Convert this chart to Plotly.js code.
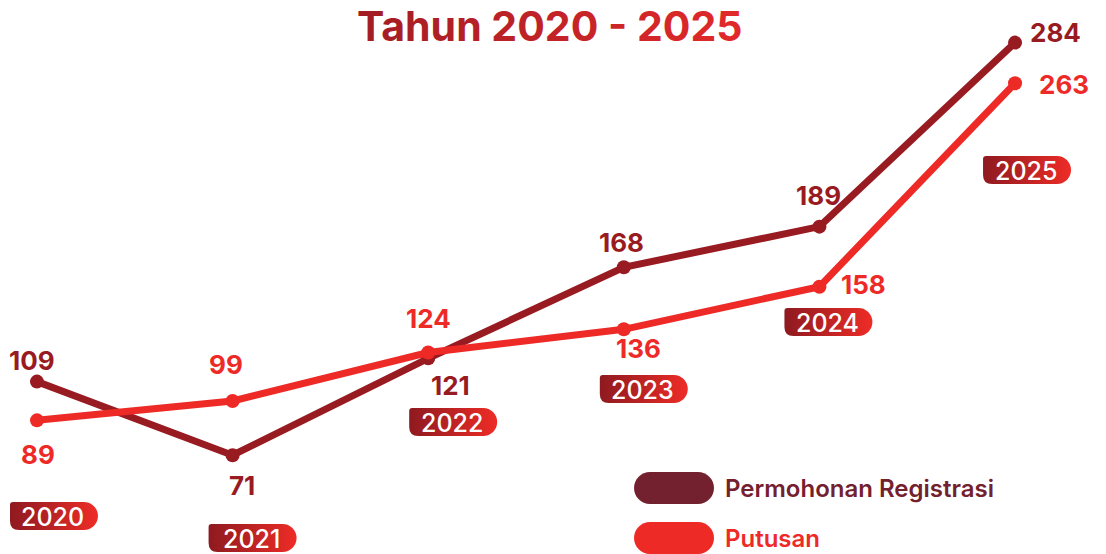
<!DOCTYPE html>
<html>
<head>
<meta charset="utf-8">
<script src="https://cdn.plot.ly/plotly-3.0.1.min.js"></script>
<style>
  html, body { margin: 0; padding: 0; background: #fff; }
  #chart { width: 1106px; height: 554px; }
</style>
</head>
<body>
<div id="chart"></div>
<script>
const years = ["2020", "2021", "2022", "2023", "2024", "2025"];
const permohonan = [109, 71, 121, 168, 189, 284];
const putusan = [89, 99, 124, 136, 158, 263];
const seriesNames = ["Permohonan Registrasi", "Putusan"];

const DARK = "#991B22";
const BRIGHT = "#EE2A27";
const LEGEND_DARK = "#74212F";
const FONT = "Inter, 'Noto Sans', sans-serif";

// label offsets (px) relative to each point
const darkShift = [[-5, 21], [9, -30], [22, -27], [-2, 25], [-1, 31], [40, 10]];
const brightShift = [[1, -34], [-7, 36], [0, 34], [15, -19], [44, 2], [49, -1]];

// year badges: x offset from the category, vertical centre in px from top
const badgeDx = [17, 20, 25, 20, 9, 12];
const badgeY = [516, 538, 422, 389, 322, 170];

const H = 554;
const py = (p) => 1 - p / H;

function pillPath(dx) {
  // top-left slightly rounded, bottom-left rounded, right end semicircle
  const l = dx - 44, r = dx + 44, c = r - 14;
  return [
    `M${l + 3},14`, `L${c},14`,
    `C${c + 7.7},14 ${r},7.7 ${r},0`,
    `C${r},-7.7 ${c + 7.7},-14 ${c},-14`,
    `L${l + 9},-14`, `Q${l},-14 ${l},-5`,
    `L${l},11`, `Q${l},14 ${l + 3},14`, "Z"
  ].join(" ");
}

const traces = [
  {
    x: years, y: permohonan, name: seriesNames[0], type: "scatter", mode: "lines+markers",
    line: { color: DARK, width: 7 }, marker: { color: DARK, size: 14 }
  },
  {
    x: years, y: putusan, name: seriesNames[1], type: "scatter", mode: "lines+markers",
    line: { color: BRIGHT, width: 7 }, marker: { color: BRIGHT, size: 14 }
  }
];

const shapes = [];
const annotations = [];

years.forEach((yr, i) => {
  shapes.push({
    type: "path", xref: "x", yref: "paper",
    xsizemode: "pixel", ysizemode: "pixel",
    xanchor: i, yanchor: py(badgeY[i]),
    path: pillPath(badgeDx[i]),
    fillcolor: "#C8202A", line: { width: 0 }, layer: "below"
  });
  // category index as x (the year strings would be read as numbers)
  annotations.push({
    x: i, xref: "x", xshift: badgeDx[i] - 1, y: py(badgeY[i] + 1), yref: "paper",
    text: yr, showarrow: false, xanchor: "center", yanchor: "middle",
    font: { family: FONT, size: 25, color: "#fff", weight: 500 }
  });
  annotations.push({
    x: i, y: permohonan[i], xref: "x", yref: "y",
    xshift: darkShift[i][0], yshift: darkShift[i][1],
    text: String(permohonan[i]), showarrow: false,
    font: { family: FONT, size: 26, color: DARK, weight: 700 }
  });
  annotations.push({
    x: i, y: putusan[i], xref: "x", yref: "y",
    xshift: brightShift[i][0], yshift: brightShift[i][1],
    text: String(putusan[i]), showarrow: false,
    font: { family: FONT, size: 26, color: BRIGHT, weight: 700 }
  });
});

// custom legend with pill swatches
const legendColors = [LEGEND_DARK, BRIGHT];
const legendY = [488, 538];
seriesNames.forEach((nm, k) => {
  shapes.push({
    type: "path", xref: "paper", yref: "paper",
    xsizemode: "pixel", ysizemode: "pixel",
    xanchor: 674 / 1106, yanchor: py(legendY[k]),
    path: "M-24,16 L24,16 C32.8,16 40,8.8 40,0 C40,-8.8 32.8,-16 24,-16 L-24,-16 C-32.8,-16 -40,-8.8 -40,0 C-40,8.8 -32.8,16 -24,16 Z",
    fillcolor: legendColors[k], line: { width: 0 }
  });
  annotations.push({
    x: 723 / 1106, xref: "paper", y: py(legendY[k]), yref: "paper",
    text: nm, showarrow: false, xanchor: "left", yanchor: "middle",
    font: { family: FONT, size: 24, color: legendColors[k], weight: 600 }
  });
});

const layout = {
  width: 1106, height: 554,
  margin: { l: 0, r: 0, t: 0, b: 0 },
  paper_bgcolor: "#fff", plot_bgcolor: "#fff",
  showlegend: false,
  title: {
    text: "Tahun 2020 - 2025",
    font: { family: FONT, size: 41, color: "#C2212A", weight: 700 },
    x: 0.497, xanchor: "center", y: 1 - 27 / H, yanchor: "middle", yref: "container"
  },
  xaxis: {
    type: "category", range: [-0.189, 5.465],
    showgrid: false, zeroline: false, showticklabels: false, showline: false, ticks: ""
  },
  yaxis: {
    range: [20, 306],
    showgrid: false, zeroline: false, showticklabels: false, showline: false, ticks: ""
  },
  shapes: shapes,
  annotations: annotations
};

Plotly.newPlot("chart", traces, layout, { staticPlot: true, displayModeBar: false }).then(() => {
  // horizontal gradients for the badges and the title
  const svg = document.querySelector("#chart .main-svg");
  const ns = "http://www.w3.org/2000/svg";
  let defs = svg.querySelector("defs");
  function grad(id, c0, c1) {
    const g = document.createElementNS(ns, "linearGradient");
    g.setAttribute("id", id);
    g.setAttribute("x1", "0"); g.setAttribute("x2", "1");
    g.setAttribute("y1", "0"); g.setAttribute("y2", "0");
    [[0, c0], [1, c1]].forEach(([o, c]) => {
      const s = document.createElementNS(ns, "stop");
      s.setAttribute("offset", o);
      s.setAttribute("stop-color", c);
      g.appendChild(s);
    });
    defs.appendChild(g);
  }
  grad("badgeGrad", "#8E1A20", "#EE2C27");
  grad("titleGrad", "#A11D24", "#E2292A");
  document.querySelectorAll("#chart .shapelayer path").forEach((p) => {
    const idx = +p.getAttribute("data-index");
    if (idx < years.length) p.style.fill = "url(#badgeGrad)";
  });
  const t = document.querySelector("#chart .gtitle");
  if (t) t.style.fill = "url(#titleGrad)";
});
</script>
</body>
</html>
